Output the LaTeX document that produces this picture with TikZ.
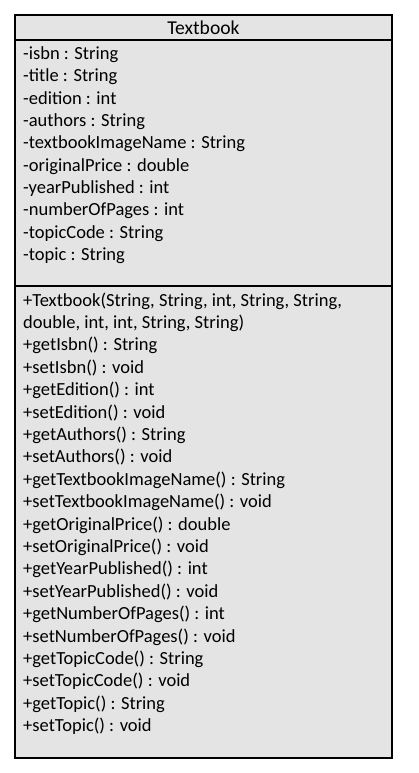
\documentclass[tikz,border=0pt]{standalone}
\usepackage{fontspec}
\setmainfont{Carlito}
\definecolor{boxgray}{RGB}{228,228,228}
\begin{document}
\begin{tikzpicture}[x=1pt,y=-1pt,
  rowtext/.style={font=\fontsize{18.5}{22}\selectfont, anchor=base west, inner sep=0pt},
  titletext/.style={font=\fontsize{19.6}{23}\selectfont, anchor=base, inner sep=0pt},
  frame/.style={draw=black, line width=1.3pt},
  divider/.style={draw=black, line width=1.1pt}]
\useasboundingbox (0,0) rectangle (418,773);
\path[frame, fill=boxgray] (15,15) rectangle (392,758);
\coordinate (d1l) at (15,40); \coordinate (d1r) at (392,40);
\coordinate (d2l) at (15,286); \coordinate (d2r) at (392,286);
\draw[divider] (d1l) -- (d1r);
\draw[divider] (d2l) -- (d2r);
\node[titletext] (title) at (203.5,34.5) {Textbook};
\foreach \t [count=\i] in {-isbn : String,-title : String,-edition : int,-authors : String,-textbookImageName : String,-originalPrice : double,-yearPublished : int,-numberOfPages : int,-topicCode : String,-topic : String}
  \node[rowtext] (attr\i) at (23,{59.5+22.35*(\i-1)}) {\t};
\foreach \t [count=\i] in {{+Textbook(String, String, int, String, String,},{double, int, int, String, String)},+getIsbn() : String,+setIsbn() : void,+getEdition() : int,+setEdition() : void,+getAuthors() : String,+setAuthors() : void,+getTextbookImageName() : String,+setTextbookImageName() : void,+getOriginalPrice() : double,+setOriginalPrice() : void,+getYearPublished() : int,+setYearPublished() : void,+getNumberOfPages() : int,+setNumberOfPages() : void,+getTopicCode() : String,+setTopicCode() : void,+getTopic() : String,+setTopic() : void}
  \node[rowtext] (meth\i) at (23,{306+22.4*(\i-1)}) {\t};
\end{tikzpicture}
\end{document}
